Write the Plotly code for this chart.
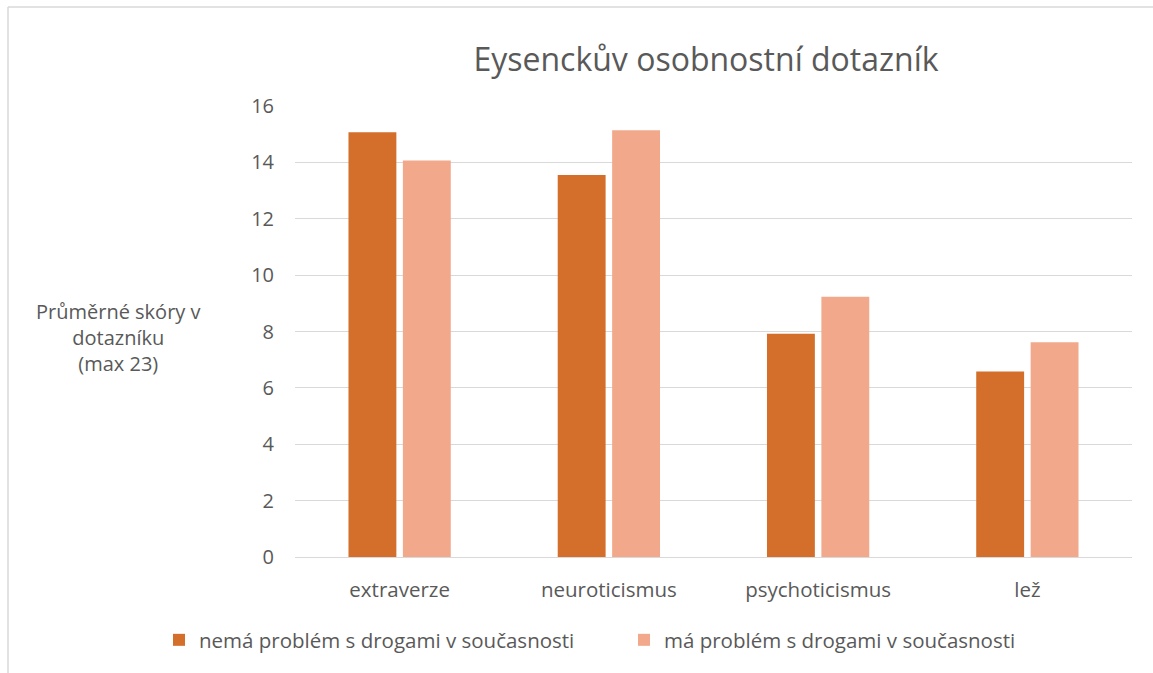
import plotly.graph_objects as go

categories = ["extraverze", "neuroticismus", "psychoticismus", "lež"]
series_names = ["nemá problém s drogami v současnosti", "má problém s drogami v současnosti"]
no_problem = [15.07, 13.55, 7.92, 6.58]
problem = [14.07, 15.14, 9.23, 7.62]
y_ticks = [0, 2, 4, 6, 8, 10, 12, 14, 16]

W, H = 1153, 673
L, R, T, B = 295, 21, 106, 116
pw, ph = W - L - R, H - T - B

def px_x(x):
    return (x - L) / pw

def px_y(y):
    return (H - B - y) / ph

FONT = "Open Sans"
GREY = "#595959"

fig = go.Figure()
fig.add_trace(go.Bar(x=categories, y=no_problem, name=series_names[0],
                     marker=dict(color="#D36F2B", line=dict(width=0))))
fig.add_trace(go.Bar(x=categories, y=problem, name=series_names[1],
                     marker=dict(color="#F2A98B", line=dict(width=0))))

fig.update_layout(
    width=W, height=H,
    margin=dict(l=L, r=R, t=T, b=B, autoexpand=False),
    paper_bgcolor="white", plot_bgcolor="white",
    barmode="group", bargap=0.48, bargroupgap=0.12,
    font=dict(family=FONT, color=GREY, size=20),
    title=dict(text="Eysenckův osobnostní dotazník", x=px_x(706), xref="paper",
               xanchor="center", y=1 - 60 / H, yanchor="middle",
               font=dict(size=32, color=GREY, family=FONT)),
    xaxis=dict(showgrid=False, showline=False, ticks="", tickfont=dict(size=20.5, color=GREY),
               ticklabelstandoff=18),
    yaxis=dict(range=[0, 16], tickvals=y_ticks, showgrid=True, gridcolor="#d9d9d9",
               gridwidth=1, zeroline=True, zerolinecolor="#d9d9d9", zerolinewidth=1,
               showline=False, ticks="", tickfont=dict(size=20, color=GREY),
               ticklabelstandoff=20),
    legend=dict(orientation="h", x=px_x(159), xanchor="left", y=px_y(640), yanchor="middle",
                font=dict(size=20.5, color=GREY), itemwidth=30, entrywidth=420,
                bgcolor="rgba(0,0,0,0)", traceorder="normal"),
    showlegend=True,
)

fig.add_annotation(text="Průměrné skóry v<br>dotazníku<br>(max 23)", xref="paper", yref="paper",
                   x=px_x(118), y=px_y(337), xanchor="center", yanchor="middle",
                   showarrow=False, align="center",
                   font=dict(size=20, color=GREY, family=FONT))

# outer chart border (partly cropped in the reference)
fig.add_shape(type="line", xref="paper", yref="paper", x0=px_x(8), x1=px_x(W + 5),
              y0=px_y(7), y1=px_y(7), line=dict(color="#d9d9d9", width=1.5))
fig.add_shape(type="line", xref="paper", yref="paper", x0=px_x(8), x1=px_x(8),
              y0=px_y(7), y1=px_y(H + 5), line=dict(color="#d9d9d9", width=1.5))

fig.write_html("out.html", config={"displayModeBar": False},
               post_script="document.body.style.margin='0';")
